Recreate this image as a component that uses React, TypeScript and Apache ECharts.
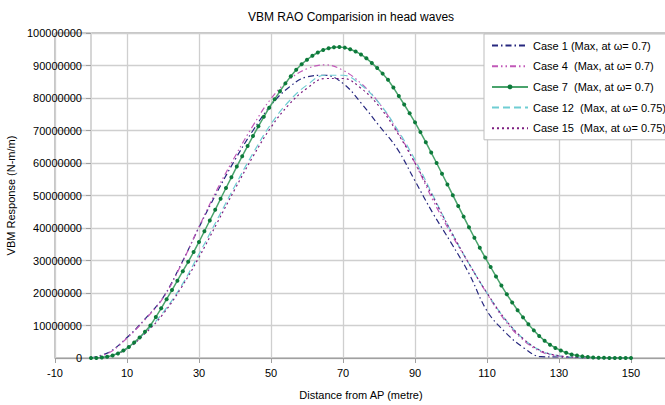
import React, { useEffect, useRef } from "react";
import * as echarts from "echarts";

// Stations for the densely sampled Case 7 curve (metres from AP)
const stations7 = [
  0, 1.5, 3, 4.5, 6, 7.5, 9, 10.5, 12, 13.5, 15, 16.5, 18, 19.5, 21, 22.5, 24, 25.5, 27, 28.5,
  30, 31.5, 33, 34.5, 36, 37.5, 39, 40.5, 42, 43.5, 45, 46.5, 48, 49.5, 51, 52.5, 54, 55.5, 57, 58.5,
  60, 61.5, 63, 64.5, 66, 67.5, 69, 70.5, 72, 73.5, 75, 76.5, 78, 79.5, 81, 82.5, 84, 85.5, 87, 88.5,
  90, 91.5, 93, 94.5, 96, 97.5, 99, 100.5, 102, 103.5, 105, 106.5, 108, 109.5, 111, 112.5, 114, 115.5, 117, 118.5,
  120, 121.5, 123, 124.5, 126, 127.5, 129, 130.5, 132, 133.5, 135, 136.5, 138, 139.5, 141, 142.5, 144, 145.5, 147, 148.5,
  150,
];
// Case 7 VBM (millions N-m/m)
const case7 = [
  0, 0.02, 0.15, 0.4, 0.8, 1.4, 2.3, 3.4, 4.8, 6.3, 8.1, 10.0, 12.6, 15.3, 18.1, 20.9, 23.8, 26.7, 29.6, 32.6,
  35.7, 39.0, 42.3, 45.6, 49.0, 52.3, 55.6, 58.9, 62.1, 65.2, 68.3, 71.3, 74.2, 77.0, 79.6, 82.1, 84.5, 86.7, 88.7, 90.4,
  91.8, 93.0, 94.0, 94.8, 95.3, 95.6, 95.7, 95.5, 95.0, 94.3, 93.4, 92.2, 90.8, 89.2, 87.5, 85.6, 83.2, 80.6, 78.0, 75.3,
  72.5, 69.5, 66.4, 63.2, 60.0, 56.7, 53.4, 50.1, 46.8, 43.5, 40.2, 37.0, 33.9, 30.9, 28.0, 25.1, 22.3, 19.6, 17.1, 14.7,
  12.5, 10.4, 8.5, 6.8, 5.3, 4.1, 3.1, 2.3, 1.6, 1.1, 0.75, 0.5, 0.3, 0.18, 0.1, 0.05, 0.03, 0.02, 0.01, 0,
  0,
];

// Stations for the other cases
const stations = [
  0, 5, 10, 15, 20, 25, 30, 35, 40, 45, 50, 55, 60, 65, 70, 75, 80, 85, 90, 95,
  100, 105, 110, 115, 120, 125, 130, 135, 140, 145, 150,
];
const case1 = [
  0, 1.8, 6.3, 12.0, 18.6, 28.8, 40.2, 51.0, 61.0, 70.0, 77.8, 83.3, 86.5, 87.0, 84.5, 78.5, 71.5, 64.5, 54.5, 44.5,
  35.5, 26.0, 14.5, 8.0, 3.3, 0.4, 0.3, 0.1, 0, 0, 0,
];
const case4 = [
  0, 1.6, 6.1, 11.8, 18.4, 28.6, 40.4, 51.8, 62.0, 71.5, 79.8, 85.6, 89.0, 90.2, 88.5, 84.5, 78.5, 70.0, 60.0, 48.5,
  38.3, 29.0, 19.8, 11.5, 5.6, 1.9, 0.6, 0.2, 0.05, 0, 0,
];
const case12 = [
  0, 0.6, 3.0, 7.8, 14.0, 22.0, 32.0, 42.5, 53.0, 63.0, 72.0, 79.0, 84.0, 87.0, 87.0, 84.0, 78.5, 70.5, 61.0, 50.0,
  39.0, 29.0, 20.0, 12.0, 6.0, 2.2, 0.7, 0.2, 0.05, 0, 0,
];
const case15 = [
  0, 0.5, 2.8, 7.5, 13.5, 21.5, 31.0, 41.5, 52.0, 62.0, 71.0, 78.0, 83.0, 86.0, 86.0, 83.0, 77.5, 69.5, 60.0, 49.5,
  39.0, 29.0, 20.0, 12.0, 6.0, 2.2, 0.7, 0.2, 0, 0, 0,
];

const seriesNames = [
  "Case 1 (Max, at ω= 0.7)",
  "Case 4  (Max, at ω= 0.7)",
  "Case 7  (Max, at ω= 0.7)",
  "Case 12  (Max, at ω= 0.75)",
  "Case 15  (Max, at ω= 0.75)",
];

const SCALE = 1e6;
const pairs = (xs: number[], ys: number[]) => xs.map((x, i) => [x, ys[i] * SCALE]);

const FONT = "'Liberation Sans', Arial, sans-serif";

export default function App() {
  const ref = useRef<HTMLDivElement>(null);
  useEffect(() => {
    if (!ref.current) return;
    const chart = echarts.init(ref.current, undefined, { renderer: "svg" });
    const thin = (color: string, type: number[]) => ({
      type: "line",
      smooth: 0.4,
      symbol: "none",
      lineStyle: { color, width: 1.2, type },
      itemStyle: { color },
      z: 3,
    });
    const hiddenDot = { opacity: 0 };
    chart.setOption({
      animation: false,
      backgroundColor: "#fff",
      textStyle: { fontFamily: FONT },
      title: {
        text: "VBM RAO Comparision in head waves",
        left: 243,
        top: 6,
        textStyle: { fontSize: 12, fontWeight: "normal", color: "#000", fontFamily: FONT },
      },
      grid: {
        left: 55,
        right: -2,
        top: 33,
        bottom: 47,
        containLabel: false,
        outerBoundsMode: "none",
        show: true,
        borderColor: "#8c8c8c",
        borderWidth: 1,
      },
      legend: {
        orient: "vertical",
        left: 484,
        top: 34,
        padding: [6, 2, 6, 7],
        itemGap: 9.7,
        itemWidth: 36,
        itemHeight: 6,
        backgroundColor: "#fff",
        borderColor: "#bdbdbd",
        borderWidth: 1,
        textStyle: { fontSize: 11, color: "#000", fontFamily: FONT },
        data: [
          { name: seriesNames[0], itemStyle: hiddenDot },
          { name: seriesNames[1], itemStyle: hiddenDot },
          { name: seriesNames[2] },
          { name: seriesNames[3], itemStyle: hiddenDot },
          { name: seriesNames[4], itemStyle: hiddenDot },
        ],
      },
      xAxis: {
        type: "value",
        min: -10,
        max: 160,
        interval: 20,
        name: "Distance from AP (metre)",
        nameLocation: "middle",
        nameGap: 31,
        nameTextStyle: { fontSize: 11, color: "#000", fontFamily: FONT },
        axisLine: { show: true, onZero: false, lineStyle: { color: "#a0a0a0", width: 1 } },
        axisTick: { show: true, length: 5, lineStyle: { color: "#a0a0a0" } },
        axisLabel: { fontSize: 11, color: "#000", margin: 9, showMaxLabel: false, fontFamily: FONT },
        splitLine: { show: true, lineStyle: { color: "#cfcfcf", width: 1.3 } },
      },
      yAxis: {
        type: "value",
        min: 0,
        max: 100000000,
        interval: 10000000,
        offset: -36,
        name: "VBM Response (N-m/m)",
        nameLocation: "middle",
        nameGap: 69,
        nameTextStyle: { fontSize: 11, color: "#000", fontFamily: FONT },
        axisLine: { show: true, onZero: false, lineStyle: { color: "#d6d6d6", width: 2 } },
        axisTick: { show: true, length: 5, lineStyle: { color: "#a0a0a0" } },
        axisLabel: { fontSize: 11, color: "#000", margin: 9, formatter: (v: number) => String(v), fontFamily: FONT },
        splitLine: { show: true, lineStyle: { color: "#cfcfcf", width: 1.3 } },
      },
      series: [
        { ...thin("#27287f", [6, 3, 1.5, 3]), name: seriesNames[0], data: pairs(stations, case1) },
        { ...thin("#c158b8", [6, 3, 1.5, 3, 1.5, 3]), name: seriesNames[1], data: pairs(stations, case4) },
        {
          type: "line",
          name: seriesNames[2],
          data: pairs(stations7, case7),
          symbol: "circle",
          symbolSize: 4,
          showSymbol: true,
          lineStyle: { color: "#4aa36c", width: 1.5 },
          itemStyle: { color: "#0d7a3b" },
          z: 4,
        },
        { ...thin("#6fcdd3", [7, 4]), name: seriesNames[3], data: pairs(stations, case12) },
        { ...thin("#7d1f80", [2, 3]), name: seriesNames[4], data: pairs(stations, case15) },
      ],
    });
    return () => chart.dispose();
  }, []);
  return (
    <div
      ref={ref}
      style={{ position: "absolute", left: 0, top: 0, width: 665, height: 405, background: "#fff" }}
    />
  );
}
